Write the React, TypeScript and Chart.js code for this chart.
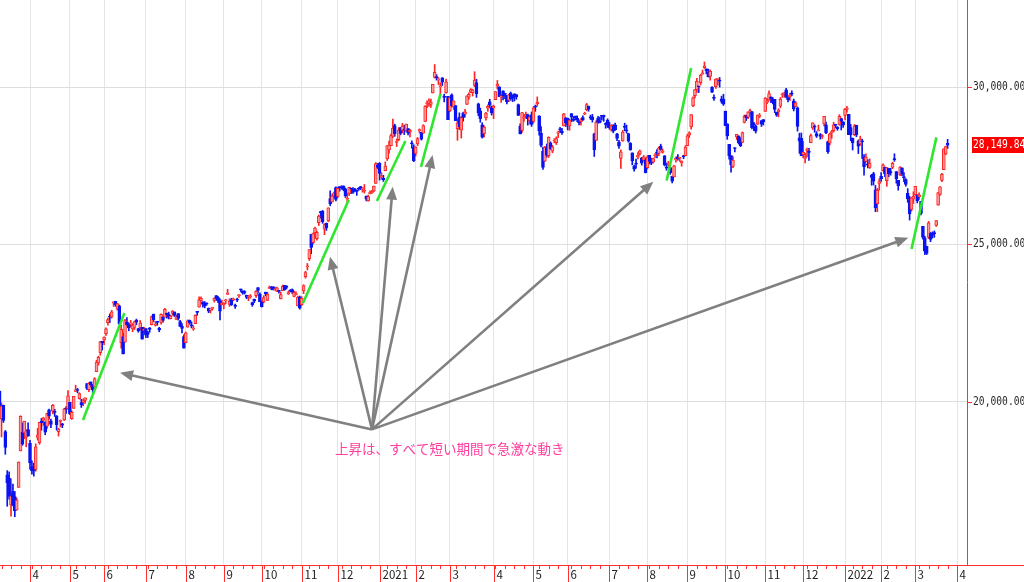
import React, { useEffect, useRef } from 'react';
import { Chart, registerables } from 'chart.js';

Chart.register(...registerables);

// ---- Axis labels / calendar (trading days per month) ----
const monthLabels = ['4', '5', '6', '7', '8', '9', '10', '11', '12', '2021', '2', '3', '4', '5', '6', '7', '8', '9', '10', '11', '12', '2022', '2', '3', '4'];
const daysShownBeforeFirstMonth = 16; // Mar 9 - Mar 31, 2020
const monthTradingDays = [21, 18, 22, 21, 20, 20, 21, 19, 22, 19, 18, 23, 21, 18, 22, 20, 21, 20, 21, 20, 22, 19, 18, 22];
const yTickValues = [20000, 25000, 30000];

// ---- Daily candles: Nikkei 225, 2020-03-09 .. 2022-03-25 ----
const open = [
  20343, 19474, 19892, 19064, 17683, 17586, 16728, 17154, 16995, 16570, 17289, 18446, 19048, 19022, 18884, 19122,
  18686, 17934, 17952, 17858, 18878, 18709, 19396, 19416, 19362, 19232, 19752, 19401, 19712, 19690, 19552, 19056, 19381, 19303, 19434, 19783, 19777,
  19991, 19468, 19795, 20333, 20396, 20107, 19981, 19998, 20052, 20585, 20389, 20637, 20529, 20488, 20962, 21237, 21568, 21928,
  21974, 22166, 22515, 22706, 22700, 23136, 23197, 22946, 23051, 21880, 22078, 21896, 22542, 22456, 22470, 22317, 22371, 22603, 22328, 22349, 22369, 22275,
  22330, 22229, 22355, 22457, 22789, 22436, 22555, 22339, 22524, 22706, 22692, 22822, 22781, 22645, 22813, 22859, 22623, 22806, 22549, 22410, 22079,
  21880, 22375, 22595, 22427, 22313, 22484, 22846, 23012, 23216, 23167, 23108, 23113, 22982, 22917, 22970, 23227, 23380, 23311, 23201, 23087,
  23084, 23208, 23414, 23096, 23251, 23235, 23079, 23256, 23376, 23563, 23531, 23479, 23387, 23325, 23342, 23157, 23262, 23376, 23630, 23425,
  23166, 23178, 23487, 23223, 23609, 23637, 23655, 23565, 23511, 23542, 23281, 23532, 23700, 23686, 23434, 23549, 23572, 23354, 23408, 23053, 23332,
  23087, 23523, 23976, 24288, 24553, 25324, 25058, 25373, 25186, 25693, 26042, 26059, 25490, 25676, 25746, 26455, 26355, 26541, 26810,
  26523, 26835, 26828, 26857, 26771, 26436, 26622, 26758, 26732, 26750, 26692, 26767, 26816, 26760, 26691, 26540, 26381, 26610, 26644, 26701, 26936, 27531,
  27575, 27151, 27102, 27340, 27720, 28004, 28140, 28442, 28777, 28238, 28325, 28710, 28619, 28645, 28604, 28680, 28573, 28217, 28082,
  27893, 28194, 28611, 28557, 28537, 28911, 29474, 29470, 29445, 29809, 30306, 30333, 30219, 30002, 30290, 29691, 29822, 29702,
  29242, 29749, 29364, 29409, 28681, 29036, 28632, 29162, 29137, 29445, 29680, 29839, 29821, 30047, 30140, 29466, 29241, 28796, 28518, 29016, 29326, 29528, 29350,
  29334, 29597, 30027, 30008, 29678, 29877, 29785, 29735, 29581, 29807, 29665, 29786, 29757, 29439, 28752, 28618, 29016, 29067, 29128, 28928, 29113,
  28907, 29374, 29467, 29073, 28534, 27960, 27648, 28074, 27822, 28226, 27961, 28285, 28232, 28537, 28665, 28601, 28766, 29017,
  29011, 28766, 29155, 28964, 29076, 29007, 28937, 28902, 29028, 29136, 29281, 29394, 29034, 29051, 28514, 28301, 29002, 28929, 29104, 29102, 28813, 28950,
  28783, 28637, 28758, 28796, 28513, 28249, 27734, 28286, 28761, 28627, 28525, 28214, 27910, 27480, 27578, 27775, 27876, 27753, 27677, 27679,
  27442, 27827, 27654, 27616, 27818, 27940, 27890, 28123, 27926, 27814, 27443, 27538, 27438, 27162, 27142, 27691, 27780, 27734, 27589, 27822, 27822,
  28140, 28472, 28732, 29399, 29725, 29914, 30022, 30141, 30409, 30616, 30578, 30480, 30332, 29991, 29658, 30010, 30238, 30213, 29624, 29618,
  29235, 28830, 28178, 27822, 27479, 28062, 28418, 28446, 28300, 28244, 28874, 29109, 29046, 29176, 29218, 28814, 28754, 28818, 29068, 28934, 28969,
  29227, 29512, 29580, 29687, 29610, 29606, 29193, 29208, 29394, 29745, 29781, 29907, 29664, 29693, 29797, 29559, 29383, 29338, 28389, 28369,
  27853, 27732, 27984, 27935, 28235, 28701, 28763, 28519, 28604, 28490, 28428, 28829, 28796, 28271, 28227, 28550, 28611, 28810, 28719, 28810, 28999, 28895,
  29098, 29288, 29136, 28711, 28380, 28483, 28787, 28286, 28196, 28274, 27787, 27635, 27558, 27450, 27196, 27249, 26736, 26298, 26940,
  27163, 27342, 27460, 27026, 27416, 27290, 27446, 27727, 27317, 27035, 27209, 27436, 27126, 27058, 26625, 26422, 26114, 26442,
  26582, 26579, 26512, 26374, 25575, 25209, 24944, 25224, 25361, 25336, 25361, 25602, 26248, 26593, 27036, 27375, 27875, 28213,
];
const high = [
  20347, 19970, 19902, 19096, 17822, 17785, 17557, 17396, 17160, 16953, 18100, 19564, 19337, 19389, 19123, 19336,
  18784, 18132, 18059, 18672, 19162, 19353, 19479, 19516, 19373, 19638, 19775, 19454, 19922, 19769, 19573, 19170, 19429, 19322, 19803, 19851, 20365,
  19991, 19717, 20179, 20534, 20430, 20296, 20084, 20097, 20133, 20595, 20613, 20637, 20558, 20771, 21327, 21456, 21926, 21928,
  22068, 22355, 22662, 22795, 22907, 23178, 23199, 23124, 23077, 22438, 22189, 22626, 22676, 22510, 22593, 22491, 22568, 22631, 22339, 22589, 22369, 22375,
  22330, 22239, 22363, 22727, 22789, 22552, 22563, 22372, 22800, 22706, 22971, 22822, 22854, 22749, 22905, 22859, 22758, 22806, 22590, 22488, 22135,
  22222, 22608, 22604, 22543, 22420, 22766, 22878, 23338, 23338, 23187, 23190, 23150, 22983, 22959, 23009, 23306, 23380, 23344, 23277, 23238,
  23153, 23264, 23580, 23277, 23294, 23302, 23110, 23302, 23408, 23582, 23531, 23534, 23391, 23383, 23412, 23169, 23268, 23540, 23630, 23464,
  23209, 23375, 23487, 23485, 23682, 23668, 23665, 23650, 23652, 23546, 23491, 23711, 23700, 23686, 23520, 23567, 23591, 23519, 23500, 23366, 23363,
  23344, 23723, 24149, 24398, 24839, 25324, 25362, 25549, 25427, 25937, 26057, 26081, 25660, 25680, 26165, 26706, 26604, 26664, 26834,
  26823, 26836, 26866, 26865, 26794, 26632, 26817, 26785, 26804, 26786, 26728, 26805, 26843, 26810, 26905, 26540, 26570, 26704, 26717, 26854, 27602, 27572,
  27602, 27279, 27196, 27624, 28139, 28287, 28503, 28979, 28820, 28349, 28711, 28710, 28846, 28785, 28822, 28680, 28653, 28293, 28167,
  28108, 28398, 28670, 28566, 28802, 29408, 29559, 29626, 29613, 30084, 30714, 30393, 30298, 30134, 30300, 29774, 30248, 29702,
  29669, 29783, 29559, 29414, 28989, 29180, 29063, 29201, 29295, 29718, 29815, 29951, 29931, 30485, 30247, 29487, 29328, 28867, 28764, 29193, 29432, 29608, 29402,
  29426, 29854, 30208, 30008, 29754, 29877, 29803, 29735, 29766, 29842, 29750, 29787, 29757, 29459, 28831, 29193, 29131, 29204, 29141, 29078, 29207,
  29377, 29427, 29685, 29094, 28740, 28090, 28118, 28190, 28420, 28256, 28150, 28356, 28418, 28597, 28723, 28691, 29166, 29037,
  29011, 28979, 29155, 29062, 29076, 29087, 28953, 29000, 29087, 29200, 29480, 29394, 29106, 29131, 28532, 28936, 29066, 29046, 29104, 29108, 28866, 28989,
  28875, 28806, 28805, 28852, 28526, 28309, 28004, 28619, 28852, 28794, 28532, 28236, 27910, 27523, 27709, 27919, 28000, 27764, 27827, 27748,
  27822, 27827, 27740, 27741, 27885, 28017, 28100, 28185, 28035, 27828, 27585, 27639, 27444, 27171, 27514, 27780, 27852, 27752, 27659, 27834, 28139,
  28494, 28579, 29128, 29684, 29929, 30275, 30027, 30403, 30540, 30795, 30578, 30568, 30545, 30013, 29752, 30257, 30254, 30302, 29710, 29770,
  29235, 28831, 28178, 27822, 27794, 28072, 28498, 28446, 28392, 28572, 29112, 29109, 29215, 29298, 29218, 28878, 28798, 29115, 29159, 28934, 28969,
  29666, 29622, 29881, 29687, 29667, 29610, 29202, 29310, 29667, 29808, 29833, 29960, 29683, 29808, 29880, 29617, 29538, 29370, 28536, 28541,
  28273, 27895, 28063, 28052, 28502, 28866, 28800, 28583, 28791, 28522, 28490, 29070, 28888, 28282, 28539, 28624, 28881, 28818, 28744, 29121, 29006, 28904,
  29323, 29388, 29136, 28813, 28380, 28813, 28787, 28319, 28440, 28349, 27857, 27880, 27695, 27718, 27228, 27294, 26874, 26781, 27086,
  27281, 27564, 27460, 27450, 27416, 27421, 27615, 27880, 27317, 27035, 27475, 27436, 27281, 27091, 26773, 26531, 26494, 26674,
  26844, 26579, 26643, 26374, 25575, 25264, 24944, 25733, 25384, 25403, 25431, 25762, 26652, 26836, 27257, 28040, 28121, 28338,
];
const low = [
  19472, 18891, 19350, 18339, 16690, 16914, 16378, 16698, 16358, 16570, 17289, 18446, 18622, 18832, 18578, 18917,
  17871, 17707, 17646, 17802, 18790, 18659, 19101, 19260, 18959, 19160, 19455, 19181, 19622, 19541, 19106, 18918, 19208, 19186, 19411, 19636, 19771,
  19597, 19448, 19795, 20333, 20291, 20090, 19828, 19883, 19957, 20392, 20324, 20477, 20282, 20485, 20962, 21168, 21482, 21649,
  21823, 22114, 22441, 22517, 22663, 23035, 23035, 22916, 22472, 21709, 21548, 21896, 22429, 22260, 22380, 22232, 22300, 22452, 22213, 22286, 21995, 22196,
  22045, 22046, 22218, 22443, 22545, 22406, 22435, 22229, 22470, 22531, 22692, 22662, 22635, 22635, 22750, 22713, 22617, 22600, 22393, 22191, 21710,
  21880, 22375, 22466, 22352, 22274, 22484, 22751, 23012, 23191, 23009, 22990, 23071, 22836, 22825, 22913, 23171, 23232, 23152, 22604, 23087,
  22957, 23120, 23414, 23035, 23064, 23211, 22970, 23181, 23320, 23491, 23420, 23426, 23278, 23217, 23294, 23037, 23151, 23318, 23456, 23185,
  23014, 23149, 23363, 23217, 23604, 23563, 23558, 23541, 23511, 23456, 23271, 23532, 23548, 23589, 23412, 23493, 23444, 23339, 23400, 23050, 22948,
  23062, 23439, 23932, 24192, 24491, 24706, 25017, 25209, 25135, 25601, 25833, 25671, 25311, 25447, 25722, 26229, 26355, 26485, 26384,
  26491, 26693, 26752, 26703, 26495, 26348, 26554, 26610, 26619, 26688, 26560, 26718, 26744, 26663, 26633, 26386, 26372, 26604, 26621, 26677, 26936, 27402,
  27042, 27073, 27002, 27340, 27667, 27899, 28140, 28402, 28434, 28111, 28293, 28480, 28540, 28491, 28578, 28475, 28417, 28059, 27629,
  27807, 28139, 28538, 28313, 28528, 28896, 29342, 29384, 29350, 29809, 30284, 30220, 30076, 29768, 30048, 29527, 29804, 28966,
  29220, 29366, 29283, 28930, 28308, 28654, 28379, 28914, 29046, 29445, 29607, 29815, 29713, 30012, 29670, 29086, 28882, 28379, 28405, 28950, 29227, 29337, 29108,
  28994, 29597, 29933, 29696, 29512, 29590, 29628, 29460, 29535, 29575, 29534, 29555, 29611, 29093, 28508, 28558, 28907, 29000, 28790, 28820, 28748,
  28855, 29226, 29392, 28467, 28101, 27385, 27640, 27770, 27763, 28012, 27910, 28226, 28174, 28390, 28547, 28491, 28766, 28745,
  28637, 28625, 28897, 28910, 28952, 28900, 28795, 28785, 28937, 29123, 29244, 29229, 28971, 28884, 27795, 28301, 28843, 28856, 28946, 28912, 28692, 28714,
  28658, 28598, 28545, 28622, 28299, 28053, 27419, 28276, 28606, 28536, 28247, 27991, 27529, 27330, 27423, 27714, 27845, 27518, 27656, 27272,
  27400, 27554, 27533, 27583, 27758, 27745, 27816, 27991, 27901, 27495, 27357, 27456, 27227, 26954, 27142, 27616, 27676, 27637, 27486, 27722, 27822,
  28140, 28395, 28660, 29373, 29655, 29830, 29825, 30067, 30408, 30587, 30420, 30319, 30220, 29817, 29573, 29958, 30060, 29994, 29485, 29415,
  28771, 28339, 27707, 27293, 27442, 27936, 28330, 28190, 28107, 28233, 28859, 28936, 28991, 29147, 28666, 28612, 28538, 28812, 29025, 28748, 28792,
  29227, 29470, 29566, 29506, 29464, 29185, 29068, 29052, 29338, 29671, 29673, 29650, 29530, 29573, 29723, 29241, 29379, 28599, 27893, 27821,
  27751, 27588, 27780, 27671, 28235, 28650, 28563, 28397, 28604, 28345, 28367, 28761, 28518, 27893, 28161, 28370, 28574, 28704, 28625, 28785, 28636, 28719,
  28954, 29204, 28487, 28293, 28000, 28456, 28421, 27887, 28147, 27735, 27198, 27616, 27430, 27415, 26880, 26888, 26043, 26045, 26724,
  27002, 27325, 27153, 26847, 27151, 27202, 27405, 27640, 26947, 26724, 27186, 27188, 26994, 26850, 26340, 25775, 26062, 26299,
  26566, 26320, 26434, 25939, 25168, 24681, 24681, 25190, 25089, 25205, 25229, 25574, 26248, 26560, 26998, 27375, 27848, 28050,
];
const close = [
  19698, 19867, 19416, 18560, 17431, 17002, 17011, 16726, 16552, 16887, 18092, 19546, 18664, 19389, 19084, 18917,
  18065, 17818, 17820, 18576, 18950, 19353, 19345, 19498, 19043, 19638, 19550, 19290, 19897, 19669, 19280, 19137, 19429, 19262, 19783, 19771, 20193,
  19619, 19674, 20179, 20390, 20366, 20267, 19914, 20037, 20133, 20433, 20595, 20552, 20388, 20741, 21271, 21419, 21916, 21877,
  22062, 22325, 22613, 22695, 22863, 23178, 23091, 23124, 22472, 22305, 21530, 22582, 22455, 22355, 22479, 22437, 22549, 22534, 22259, 22512, 21995, 22288,
  22121, 22145, 22306, 22714, 22614, 22438, 22529, 22290, 22784, 22587, 22945, 22770, 22696, 22717, 22884, 22751, 22715, 22657, 22397, 22339, 21710,
  22195, 22573, 22514, 22418, 22329, 22750, 22843, 23249, 23289, 23096, 23051, 23110, 22880, 22920, 22985, 23296, 23290, 23208, 22882, 23140,
  23138, 23247, 23465, 23205, 23089, 23274, 23032, 23235, 23406, 23559, 23454, 23475, 23319, 23360, 23346, 23087, 23204, 23511, 23539, 23185,
  23029, 23312, 23433, 23422, 23647, 23619, 23558, 23601, 23626, 23507, 23410, 23671, 23567, 23639, 23474, 23516, 23494, 23485, 23418, 23331, 22977,
  23295, 23695, 24105, 24325, 24839, 24905, 25349, 25520, 25385, 25906, 26014, 25728, 25634, 25527, 26165, 26297, 26537, 26644, 26434,
  26787, 26800, 26809, 26751, 26547, 26467, 26817, 26756, 26652, 26732, 26687, 26757, 26806, 26763, 26714, 26436, 26524, 26668, 26656, 26854, 27568, 27444,
  27258, 27158, 27055, 27490, 28139, 28164, 28456, 28698, 28519, 28242, 28633, 28523, 28756, 28631, 28822, 28546, 28635, 28197, 27663,
  28091, 28362, 28646, 28341, 28779, 29388, 29505, 29562, 29520, 30084, 30467, 30292, 30236, 30017, 30156, 29671, 30168, 28966,
  29663, 29408, 29559, 28930, 28864, 28743, 29027, 29036, 29211, 29717, 29766, 29921, 29914, 30216, 29792, 29174, 28995, 28405, 28729, 29176, 29384, 29432, 29178,
  29388, 29854, 30089, 29696, 29730, 29708, 29768, 29538, 29751, 29620, 29642, 29683, 29685, 29100, 28508, 29188, 29020, 29126, 28991, 29053, 28812,
  29331, 29357, 29518, 28608, 28147, 27448, 28084, 27824, 28406, 28044, 28098, 28317, 28364, 28553, 28642, 28549, 29149, 28860,
  28814, 28946, 29058, 28941, 29019, 28963, 28860, 28958, 28948, 29161, 29441, 29291, 29018, 28964, 28010, 28884, 28874, 28875, 29066, 29048, 28812, 28791,
  28707, 28783, 28598, 28643, 28366, 28118, 27940, 28569, 28718, 28608, 28279, 28003, 27652, 27388, 27548, 27833, 27970, 27581, 27782, 27283,
  27781, 27641, 27584, 27728, 27820, 27888, 28070, 28015, 27977, 27523, 27424, 27585, 27281, 27013, 27494, 27732, 27724, 27742, 27641, 27789, 28089,
  28451, 28543, 29128, 29659, 29916, 30181, 30008, 30381, 30447, 30670, 30511, 30323, 30500, 29839, 29639, 30248, 30240, 30183, 29544, 29453,
  28771, 28444, 27822, 27528, 27678, 28048, 28498, 28230, 28140, 28550, 29068, 29025, 29215, 29255, 28708, 28804, 28600, 29106, 29098, 28820, 28892,
  29647, 29520, 29794, 29611, 29507, 29285, 29106, 29277, 29609, 29776, 29808, 29688, 29598, 29745, 29774, 29302, 29499, 28751, 28283, 27821,
  27935, 27753, 28029, 27927, 28455, 28860, 28725, 28437, 28640, 28432, 28459, 29066, 28545, 27937, 28517, 28562, 28798, 28782, 28676, 29069, 28906, 28791,
  29301, 29332, 28487, 28478, 28222, 28765, 28489, 28124, 28333, 28257, 27467, 27772, 27522, 27588, 27131, 27011, 26170, 26717, 27001,
  27078, 27533, 27241, 27439, 27248, 27284, 27579, 27696, 27079, 26865, 27460, 27232, 27122, 26910, 26449, 25970, 26476, 26526,
  26844, 26393, 26577, 25985, 25221, 24790, 24717, 25690, 25162, 25307, 25346, 25762, 26652, 26827, 27224, 28040, 28110, 28149.84,
];

// ---- Annotations, in data units (trading-day index, price) ----
const noteText = '上昇は、すべて短い期間で急激な動き';
const noteAnchor = [176.5, 18500];
const trendLines = [
  [43.9, 19429, 65.7, 22825],
  [159.7, 23143, 183.8, 26420],
  [198.6, 26381, 213.6, 28286],
  [221.8, 27460, 232.1, 29790],
  [351.1, 27030, 364.0, 30600],
  [480.0, 24857, 493.1, 28400],
];
const arrowOrigin = [196.0, 19130];
const arrowTargets = [
  [63.4, 20930],
  [173.9, 24613],
  [206.9, 26835],
  [227.9, 27841],
  [344.1, 26994],
  [478.3, 25216],
];

// ---- Derived ----
const monthStarts: number[] = [];
{
  let acc = daysShownBeforeFirstMonth;
  monthStarts.push(acc);
  monthTradingDays.forEach((d) => { acc += d; monthStarts.push(acc); });
}
const isUp = close.map((c, i) => c >= open[i]);
const bodyData = close.map((c, i) => ({ x: i, y: [Math.min(open[i], c), Math.max(open[i], c)] }));
const wickData = close.map((c, i) => ({ x: i, y: [Math.min(low[i], open[i], c), Math.max(high[i], open[i], c)] }));
const UP_LINE = '#ff2424';
const UP_FILL = '#ff9a9a';
const DOWN = '#0a14f0';
const AXIS_RED = '#ff3030';
const LABEL_FONT = '11.5px "DejaVu Sans Mono", monospace';
const LABEL_SCALE_X = 0.84;

const fmt = (v: number) => v.toLocaleString('en-US', { minimumFractionDigits: 2, maximumFractionDigits: 2 });

function drawNarrowText(ctx: CanvasRenderingContext2D, text: string, x: number, y: number) {
  ctx.save();
  ctx.translate(x, y);
  ctx.scale(LABEL_SCALE_X, 1);
  ctx.fillText(text, 0, 0);
  ctx.restore();
}

const overlay = {
  id: 'overlay',
  afterDatasetsDraw(chart: any) {
    const { ctx, scales } = chart;
    const px = (i: number) => scales.x.getPixelForValue(i);
    const py = (v: number) => scales.y.getPixelForValue(v);
    ctx.save();
    // green trend lines
    ctx.strokeStyle = '#2ee62e';
    ctx.lineWidth = 2.6;
    ctx.lineCap = 'butt';
    trendLines.forEach(([i1, v1, i2, v2]) => {
      ctx.beginPath();
      ctx.moveTo(px(i1), py(v1));
      ctx.lineTo(px(i2), py(v2));
      ctx.stroke();
    });
    // gray arrows
    const ox = px(arrowOrigin[0]);
    const oy = py(arrowOrigin[1]);
    ctx.strokeStyle = '#808080';
    ctx.fillStyle = '#808080';
    ctx.lineWidth = 2.6;
    arrowTargets.forEach(([ti, tv]) => {
      const tx = px(ti);
      const ty = py(tv);
      const dx = tx - ox;
      const dy = ty - oy;
      const len = Math.hypot(dx, dy);
      const ux = dx / len;
      const uy = dy / len;
      const head = 13;
      const half = 5.5;
      ctx.beginPath();
      ctx.moveTo(ox, oy);
      ctx.lineTo(tx - ux * head * 0.8, ty - uy * head * 0.8);
      ctx.stroke();
      ctx.beginPath();
      ctx.moveTo(tx, ty);
      ctx.lineTo(tx - ux * head - uy * half, ty - uy * head + ux * half);
      ctx.lineTo(tx - ux * head + uy * half, ty - uy * head - ux * half);
      ctx.closePath();
      ctx.fill();
    });
    // note text
    ctx.fillStyle = '#ff3d9e';
    ctx.font = '13.5px "Noto Sans CJK JP", sans-serif';
    ctx.textAlign = 'left';
    ctx.textBaseline = 'middle';
    ctx.fillText(noteText, px(noteAnchor[0]), py(noteAnchor[1]));
    ctx.restore();
  },
  afterDraw(chart: any) {
    const { ctx, chartArea, scales } = chart;
    const px = (i: number) => scales.x.getPixelForValue(i);
    const py = (v: number) => scales.y.getPixelForValue(v);
    const bottom = Math.round(chartArea.bottom);
    const right = Math.round(chartArea.right);
    ctx.save();
    ctx.strokeStyle = AXIS_RED;
    ctx.lineWidth = 1;
    // axis lines
    ctx.beginPath();
    ctx.moveTo(0, bottom + 0.5);
    ctx.lineTo(chart.width, bottom + 0.5);
    ctx.moveTo(right + 0.5, 0);
    ctx.lineTo(right + 0.5, bottom);
    ctx.stroke();
    // y ticks + labels
    ctx.fillStyle = '#2a2a2a';
    ctx.font = LABEL_FONT;
    ctx.textAlign = 'left';
    ctx.textBaseline = 'middle';
    yTickValues.forEach((v) => {
      const yy = Math.round(py(v)) + 0.5;
      ctx.beginPath();
      ctx.moveTo(right, yy);
      ctx.lineTo(right + 5, yy);
      ctx.stroke();
      drawNarrowText(ctx, fmt(v), right + 6, yy);
    });
    // minor ticks every 5 trading days inside each month
    ctx.beginPath();
    for (let k = 0; k < monthStarts.length; k++) {
      const start = k === 0 ? 0 : monthStarts[k - 1];
      const end = monthStarts[k];
      for (let d = end - 5; d > start; d -= 5) {
        const xx = Math.round(px(d)) + 0.5;
        if (xx < 0 || xx > chartArea.right) continue;
        ctx.moveTo(xx, bottom);
        ctx.lineTo(xx, bottom + 4);
      }
    }
    ctx.stroke();
    // month ticks and labels
    ctx.fillStyle = '#222';
    ctx.font = '11.5px "Noto Sans CJK JP", sans-serif';
    ctx.textAlign = 'left';
    ctx.textBaseline = 'middle';
    monthStarts.forEach((idx, k) => {
      const xx = Math.round(px(idx)) + 0.5;
      ctx.beginPath();
      ctx.moveTo(xx, bottom);
      ctx.lineTo(xx, chart.height);
      ctx.stroke();
      ctx.fillText(monthLabels[k], xx + 2, bottom + 10);
    });
    // last price tag
    const last = close[close.length - 1];
    const ly = Math.round(py(last));
    ctx.fillStyle = '#ff0000';
    ctx.fillRect(right + 5, ly - 8, chart.width - right - 5, 16);
    ctx.fillStyle = '#ffffff';
    ctx.font = LABEL_FONT;
    drawNarrowText(ctx, fmt(last), right + 6, ly);
    ctx.restore();
  },
};

export default function App() {
  const ref = useRef<HTMLCanvasElement>(null);
  useEffect(() => {
    if (!ref.current) return;
    const chart = new Chart(ref.current, {
      type: 'bar',
      data: {
        datasets: [
          {
            label: 'body',
            data: bodyData as any,
            backgroundColor: isUp.map((u) => (u ? UP_FILL : DOWN)),
            borderColor: isUp.map((u) => (u ? UP_LINE : DOWN)),
            borderWidth: 1,
            borderSkipped: false,
            barThickness: 3,
            minBarLength: 1,
            grouped: false,
            order: 0,
          } as any,
          {
            label: 'wick',
            data: wickData as any,
            backgroundColor: isUp.map((u) => (u ? UP_LINE : DOWN)),
            borderWidth: 0,
            barThickness: 1,
            grouped: false,
            order: 1,
          } as any,
        ],
      },
      options: {
        animation: false,
        responsive: true,
        maintainAspectRatio: false,
        events: [],
        layout: { padding: 0 },
        plugins: { legend: { display: false }, tooltip: { enabled: false } },
        scales: {
          x: {
            type: 'linear',
            min: 0.2,
            max: 509.2,
            offset: false,
            grid: { color: '#e4e4e4', offset: false, drawTicks: false, lineWidth: 1 },
            border: { display: false },
            ticks: { display: false },
            afterBuildTicks: (s: any) => { s.ticks = monthStarts.map((v) => ({ value: v })); },
            afterFit: (s: any) => { s.height = 17; s.paddingLeft = 0; s.paddingRight = 0; },
          },
          y: {
            position: 'right',
            min: 14825,
            max: 32762,
            grid: { color: '#dedede', drawTicks: false },
            border: { display: false },
            ticks: { display: false },
            afterBuildTicks: (s: any) => { s.ticks = yTickValues.map((v) => ({ value: v })); },
            afterFit: (s: any) => { s.width = 57; s.paddingTop = 0; s.paddingBottom = 0; },
          },
        },
      } as any,
      plugins: [overlay],
    });
    return () => chart.destroy();
  }, []);
  return (
    <div style={{ position: 'fixed', left: 0, top: 0, width: 1024, height: 582, background: '#fff' }}>
      <canvas ref={ref} />
    </div>
  );
}
